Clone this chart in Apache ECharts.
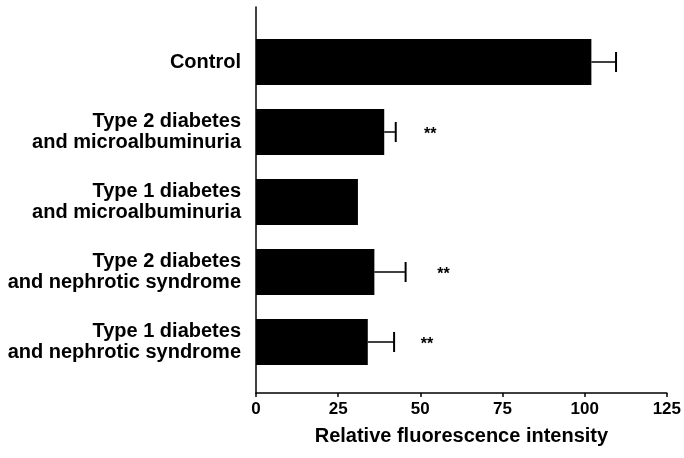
<!DOCTYPE html>
<html>
<head>
<meta charset="utf-8">
<script src="https://cdn.jsdelivr.net/npm/echarts@6/dist/echarts.min.js"></script>
<style>
  html, body { margin: 0; padding: 0; background: #fff; }
  #chart { width: 684px; height: 458px; }
</style>
</head>
<body>
<div id="chart"></div>
<script>
// 数据
var categories = [
    'Control',
    'Type 2 diabetes\nand microalbuminuria',
    'Type 1 diabetes\nand microalbuminuria',
    'Type 2 diabetes\nand nephrotic syndrome',
    'Type 1 diabetes\nand nephrotic syndrome'
];
var means = [102, 39, 31, 36, 34];
var errors = [7.5, 3.5, 0, 9.5, 8];
// ** marks (x position in data units, null = no mark)
var starPos = [null, 53, null, 57, 52];
var xTicks = [0, 25, 50, 75, 100, 125];

var chart = echarts.init(document.getElementById('chart'));

var font = '"Liberation Sans", Arial, sans-serif';

var errData = categories.map(function (c, i) {
    return [i, means[i], errors[i], starPos[i] == null ? '-' : starPos[i]];
});

var option = {
    animation: false,
    backgroundColor: '#fff',
    grid: [
        // outer frame: axis lines
        { left: 256, right: 17, top: 7, bottom: 65 },
        // bars
        { left: 256, right: 17, top: 27, bottom: 81 }
    ],
    xAxis: [{
        gridIndex: 0,
        type: 'value',
        min: xTicks[0],
        max: xTicks[xTicks.length - 1],
        interval: 25,
        axisLine: { lineStyle: { color: '#000', width: 1.5 } },
        axisTick: { show: true, length: 4, lineStyle: { color: '#000', width: 1.5 } },
        axisLabel: { color: '#000', fontFamily: font, fontWeight: 'bold', fontSize: 17, margin: 8 },
        splitLine: { show: false },
        name: 'Relative fluorescence intensity',
        nameLocation: 'middle',
        nameGap: 33,
        nameTextStyle: { color: '#000', fontFamily: font, fontWeight: 'bold', fontSize: 20 }
    }, {
        gridIndex: 1,
        type: 'value',
        min: 0,
        max: 125,
        show: false
    }],
    yAxis: [{
        gridIndex: 0,
        type: 'value',
        min: 0,
        max: 1,
        axisLine: { show: true, lineStyle: { color: '#000', width: 1.5 } },
        axisTick: { show: false },
        axisLabel: { show: false },
        splitLine: { show: false }
    }, {
        gridIndex: 1,
        type: 'category',
        inverse: true,
        data: categories,
        axisLine: { show: false },
        axisTick: { show: false },
        axisLabel: {
            color: '#000',
            fontFamily: font,
            fontWeight: 'bold',
            fontSize: 20,
            lineHeight: 21,
            align: 'right',
            margin: 15
        }
    }],
    series: [{
        type: 'bar',
        xAxisIndex: 1,
        yAxisIndex: 1,
        data: means,
        barWidth: 46,
        itemStyle: { color: '#000' }
    }, {
        // 误差线 + 显著性标记
        type: 'custom',
        xAxisIndex: 1,
        yAxisIndex: 1,
        data: errData,
        encode: { x: [1, 2, 3], y: 0 },
        z: 5,
        renderItem: function (params, api) {
            var idx = api.value(0);
            var m = api.value(1);
            var e = api.value(2);
            var s = api.value(3);
            var children = [];
            if (e > 0) {
                var p0 = api.coord([m, idx]);
                var p1 = api.coord([m + e, idx]);
                children.push({
                    type: 'line',
                    shape: { x1: p0[0], y1: p0[1], x2: p1[0], y2: p1[1] },
                    style: { stroke: '#000', lineWidth: 1.5 }
                });
                children.push({
                    type: 'line',
                    shape: { x1: p1[0], y1: p1[1] - 10, x2: p1[0], y2: p1[1] + 10 },
                    style: { stroke: '#000', lineWidth: 2 }
                });
            }
            if (!isNaN(s)) {
                var ps = api.coord([s, idx]);
                children.push({
                    type: 'text',
                    x: ps[0],
                    y: ps[1] + 3,
                    style: {
                        text: '**',
                        fill: '#000',
                        font: 'bold 16px ' + font,
                        align: 'center',
                        verticalAlign: 'middle'
                    }
                });
            }
            return { type: 'group', children: children };
        }
    }]
};

chart.setOption(option);
</script>
</body>
</html>
